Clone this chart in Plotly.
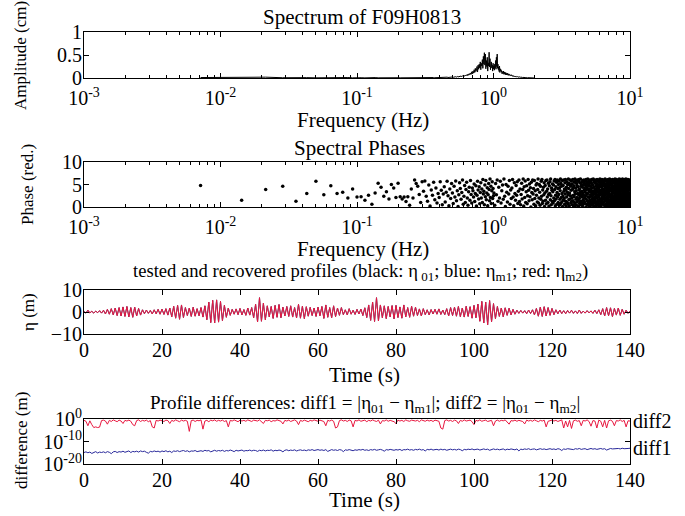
import numpy as np
import plotly.graph_objects as go

# ---------------- data ----------------
RECORD_LEN = 140.0  # s -> spectral spacing 1/140 Hz

# Amplitude spectrum (cm) at f = k/140, k = 1..280
AMP = [
    0.010, 0.022, 0.018, 0.006, 0.012, 0.008, 0.004, 0.009, 0.011, 0.005,
    0.007, 0.010, 0.004, 0.012, 0.006, 0.003, 0.008, 0.005, 0.009, 0.004,
    0.006, 0.003, 0.007, 0.005, 0.004, 0.008, 0.003, 0.006, 0.004, 0.005,
    0.003, 0.006, 0.004, 0.007, 0.003, 0.005, 0.004, 0.006, 0.008, 0.004,
    0.005, 0.007, 0.004, 0.006, 0.009, 0.005, 0.007, 0.004, 0.008, 0.006,
    0.010, 0.006, 0.008, 0.012, 0.007, 0.011, 0.009, 0.013, 0.008, 0.012,
    0.015, 0.010, 0.014, 0.018, 0.011, 0.016, 0.020, 0.013, 0.019, 0.022,
    0.016, 0.025, 0.019, 0.028, 0.021, 0.033, 0.024, 0.030, 0.038, 0.027,
    0.042, 0.031, 0.048, 0.036, 0.055, 0.040, 0.062, 0.047, 0.070, 0.052,
    0.085, 0.060, 0.095, 0.072, 0.110, 0.080, 0.135, 0.090, 0.150, 0.105,
    0.180, 0.120, 0.210, 0.140, 0.160, 0.250, 0.130, 0.280, 0.190, 0.300,
    0.220, 0.350, 0.180, 0.320, 0.260, 0.400, 0.210, 0.470, 0.300, 0.550,
    0.280, 0.520, 0.200, 0.380, 0.250, 0.450, 0.150, 0.330, 0.260, 0.560,
    0.240, 0.420, 0.180, 0.300, 0.350, 0.220, 0.280, 0.150, 0.320, 0.200,
    0.260, 0.170, 0.300, 0.220, 0.380, 0.190, 0.450, 0.250, 0.520, 0.210,
    0.300, 0.180, 0.240, 0.140, 0.260, 0.120, 0.200, 0.150, 0.180, 0.110,
    0.160, 0.090, 0.140, 0.120, 0.100, 0.150, 0.080, 0.130, 0.095, 0.110,
    0.070, 0.120, 0.085, 0.100, 0.065, 0.090, 0.075, 0.105, 0.060, 0.085,
    0.070, 0.055, 0.080, 0.060, 0.075, 0.050, 0.065, 0.045, 0.070, 0.050,
    0.060, 0.040, 0.055, 0.045, 0.050, 0.035, 0.048, 0.040, 0.030, 0.042,
    0.035, 0.028, 0.040, 0.030, 0.036, 0.025, 0.032, 0.027, 0.022, 0.030,
    0.025, 0.020, 0.028, 0.022, 0.018, 0.025, 0.020, 0.016, 0.022, 0.018,
    0.015, 0.020, 0.017, 0.013, 0.018, 0.014, 0.012, 0.016, 0.011, 0.014,
    0.012, 0.010, 0.013, 0.009, 0.011, 0.008, 0.012, 0.009, 0.010, 0.007,
    0.009, 0.007, 0.010, 0.006, 0.008, 0.006, 0.009, 0.005, 0.007, 0.006,
    0.005, 0.007, 0.004, 0.006, 0.005, 0.004, 0.006, 0.003, 0.005, 0.004,
    0.003, 0.004, 0.005, 0.003, 0.004, 0.002, 0.004, 0.003, 0.002, 0.003,
    0.002, 0.003, 0.002, 0.003, 0.002, 0.002, 0.003, 0.001, 0.002, 0.002,
]

# Spectral phases (rad): every component for k = 1..140
PHASE_LOW = [
    4.8, 1.5, 3.9, 4.6, 1.3, 3.0, 5.7, 2.7, 4.7, 3.0, 3.3, 2.0, 4.0, 2.2,
    2.3, 1.5, 2.6, 0.6, 3.1, 5.3, 4.4, 2.4, 3.4, 1.8, 5.0, 4.2, 2.1, 5.3,
    2.3, 1.8, 2.2, 1.2, 2.3, 0.4, 4.0, 2.0, 6.0, 5.2, 4.6, 2.8, 1.0, 5.6,
    3.5, 5.8, 2.4, 1.3, 4.9, 0.2, 3.8, 2.6, 5.5, 1.6, 4.2, 0.9, 3.0, 2.1,
    5.6, 3.7, 0.5, 2.9, 4.5, 1.1, 3.3, 5.7, 2.5, 0.3, 4.0, 1.9, 5.2, 3.1,
    0.8, 4.6, 2.2, 5.8, 1.4, 3.6, 0.1, 2.7, 5.4, 4.1, 1.7, 3.2, 6.0, 0.6,
    2.4, 4.8, 1.0, 3.9, 5.5, 2.0, 0.4, 3.4, 4.4, 1.5, 5.9, 2.8, 0.9, 4.2,
    3.6, 2.2, 5.1, 1.2, 3.0, 4.7, 0.2, 2.6, 5.7, 3.8, 1.8, 4.5, 0.7, 3.2,
    5.4, 2.0, 4.0, 1.0, 6.1, 2.9, 3.5, 0.5, 4.9, 2.3, 5.9, 1.6, 3.1, 4.3,
    0.3, 2.7, 5.2, 3.9, 1.4, 6.2, 2.1, 4.6, 0.8, 3.6, 5.6, 1.9, 4.1, 2.5,
]
# Spectral phases (rad): every second component for k = 141..1399
PHASE_HIGH = [
    3.1, 0.4, 5.2, 2.7, 6.0, 1.3, 4.4, 2.0, 5.7, 0.9, 3.6, 4.9, 1.7, 6.2, 2.4, 0.1, 5.0, 3.3, 1.1, 4.6,
    2.9, 5.9, 0.6, 3.8, 1.9, 4.2, 6.1, 2.2, 0.3, 5.4, 3.0, 1.5, 4.8, 2.6, 5.6, 0.8, 3.5, 6.0, 1.2, 4.0,
    0.5, 2.8, 5.3, 1.8, 3.9, 6.2, 0.2, 4.5, 2.1, 5.8, 1.0, 3.4, 4.7, 0.7, 2.5, 6.1, 3.7, 1.4, 5.1, 2.3,
    4.3, 0.0, 5.5, 3.2, 1.6, 6.0, 2.9, 4.1, 0.6, 5.9, 1.9, 3.6, 0.3, 4.9, 2.6, 5.2, 1.1, 3.9, 6.2, 0.9,
    2.0, 5.0, 3.3, 0.4, 4.6, 1.7, 5.7, 2.4, 6.1, 0.8, 3.8, 1.3, 4.4, 2.7, 5.4, 0.1, 3.1, 4.8, 1.5, 5.9,
    0.7, 3.5, 6.0, 2.2, 4.0, 1.0, 5.3, 2.8, 0.2, 4.7, 3.0, 5.6, 1.6, 6.2, 2.5, 0.5, 4.2, 3.7, 1.2, 5.1,
    3.4, 0.9, 4.9, 2.0, 5.8, 1.4, 3.9, 6.1, 0.3, 2.6, 4.5, 1.8, 5.5, 0.6, 3.2, 6.0, 2.3, 4.1, 1.0, 5.0,
    2.8, 5.7, 0.4, 4.3, 1.7, 3.6, 6.2, 0.8, 5.2, 2.1, 4.6, 1.1, 3.0, 5.9, 0.1, 2.4, 4.8, 1.5, 6.0, 3.5,
    1.9, 4.0, 0.6, 5.4, 2.9, 6.1, 1.3, 3.8, 0.2, 4.4, 2.2, 5.6, 1.0, 3.3, 5.0, 0.7, 2.7, 6.2, 4.1, 1.6,
    5.3, 0.3, 3.1, 4.9, 1.8, 6.0, 2.5, 0.9, 4.6, 3.7, 5.8, 1.2, 2.0, 5.1, 0.5, 3.9, 6.1, 1.4, 4.3, 2.6,
    0.1, 4.7, 2.3, 5.5, 1.0, 3.4, 6.2, 0.6, 2.9, 4.2, 5.9, 1.7, 3.6, 0.4, 5.2, 2.1, 4.8, 1.1, 6.0, 3.0,
    4.5, 1.5, 5.7, 2.8, 0.2, 3.8, 6.1, 1.9, 4.0, 0.8, 5.4, 2.4, 3.2, 6.2, 1.3, 4.6, 0.5, 2.7, 5.0, 3.5,
    1.0, 5.6, 2.2, 4.4, 0.3, 3.1, 5.9, 1.6, 4.9, 2.6, 0.7, 6.0, 3.7, 1.2, 5.3, 2.0, 4.1, 0.9, 5.8, 3.3,
    2.5, 4.7, 0.0, 6.1, 1.8, 3.9, 5.1, 0.6, 2.9, 4.3, 1.4, 5.5, 3.0, 6.2, 0.4, 2.3, 4.8, 1.1, 5.7, 3.6,
    0.8, 4.0, 2.1, 5.2, 1.5, 6.0, 3.4, 0.2, 4.6, 2.7, 5.9, 1.0, 3.8, 0.5, 5.4, 2.4, 4.2, 6.1, 1.7, 3.1,
    5.0, 1.2, 3.5, 0.7, 4.9, 2.0, 6.2, 2.8, 0.3, 4.4, 1.6, 5.6, 3.2, 0.9, 5.8, 2.2, 4.0, 1.3, 6.0, 3.7,
    1.9, 5.3, 0.1, 3.0, 4.7, 2.5, 5.9, 0.6, 3.6, 1.1, 4.3, 6.1, 2.0, 5.1, 0.4, 3.3, 4.8, 1.5, 5.7, 2.6,
    4.1, 0.8, 6.0, 2.3, 3.9, 1.4, 5.5, 0.2, 2.9, 4.5, 1.8, 6.2, 3.4, 0.5, 5.0, 2.7, 4.6, 1.0, 5.8, 3.1,
    0.3, 3.7, 5.2, 1.6, 4.4, 2.1, 6.1, 0.9, 3.5, 5.6, 1.2, 4.0, 2.4, 5.9, 0.7, 3.0, 4.9, 1.9, 6.0, 2.8,
    5.4, 1.1, 3.8, 0.4, 4.7, 2.5, 5.7, 1.7, 3.2, 6.2, 0.1, 4.2, 2.0, 5.1, 1.4, 3.6, 0.6, 4.8, 2.9, 5.9,
    1.5, 4.5, 0.8, 3.3, 6.0, 2.2, 5.0, 0.3, 3.9, 1.8, 5.5, 2.6, 4.1, 0.5, 6.1, 3.0, 1.2, 4.6, 2.3, 5.3,
    3.4, 0.9, 5.8, 2.7, 4.3, 1.0, 6.2, 3.6, 0.2, 4.9, 1.6, 5.2, 2.1, 3.8, 0.7, 5.7, 2.4, 4.0, 1.3, 6.0,
    2.8, 5.1, 0.4, 4.4, 1.9, 3.1, 5.9, 0.6, 2.5, 4.7, 1.1, 6.1, 3.5, 0.0, 5.4, 2.0, 4.2, 1.5, 5.6, 3.2,
    0.9, 3.9, 6.0, 1.4, 4.6, 2.3, 5.3, 0.5, 3.0, 5.8, 1.7, 4.1, 2.6, 6.2, 0.3, 3.7, 4.9, 1.0, 5.0, 2.2,
    4.8, 1.3, 3.4, 5.7, 0.7, 2.9, 6.1, 1.8, 4.3, 0.2, 5.5, 2.5, 3.8, 1.1, 5.9, 3.1, 0.6, 4.5, 2.0, 5.2,
    1.6, 4.0, 0.4, 5.6, 2.8, 3.6, 6.0, 1.2, 4.7, 0.8, 3.3, 5.1, 2.1, 6.2, 0.1, 4.4, 1.9, 5.4, 2.7, 3.9,
    0.5, 5.8, 2.4, 4.2, 1.0, 3.0, 6.1, 1.5, 4.9, 0.3, 3.5, 5.3, 2.2, 0.9, 4.6, 6.0, 1.7, 3.7, 5.0, 2.6,
    4.1, 0.6, 5.5, 2.9, 1.4, 3.8, 6.2, 0.2, 4.4, 2.0, 5.7, 1.1, 3.2, 4.8, 0.7, 5.9, 2.5, 1.6, 4.3, 3.4,
    6.0, 1.8, 3.6, 0.4, 5.1, 2.3, 4.7, 1.0, 5.6, 2.8, 0.1, 3.9, 6.1, 1.3, 4.0, 2.6, 5.3, 0.8, 3.1, 4.5,
    1.2, 5.0, 2.1, 6.2, 0.5, 3.5, 4.9, 1.7, 5.8, 2.7, 0.3, 4.2, 3.0, 5.5, 1.5, 3.8, 0.9, 6.0, 2.4, 4.6,
    0.6, 3.3, 5.7, 1.9, 4.1, 2.9, 6.1, 0.2, 3.6, 5.2, 1.4, 4.8, 2.0, 5.9, 1.1, 3.9, 0.7, 4.4, 2.5, 5.4,
    3.0, 1.6, 5.1, 0.4, 4.7, 2.3, 6.0, 1.0, 3.7, 2.8,
]

# Surface elevation (m), sampled every 0.5 s from 0 to 140 s
T_STEP = 0.5
ETA = [
    0.2, -0.5, 0.8, -0.4, 0.3, -0.5, 0.4, -0.3, 0.6, -0.5,
    0.8, -0.9, 1.2, -1.0, 1.5, -1.3, 1.8, -1.6, 2.0, -1.8,
    2.3, -2.0, 2.5, -2.2, 2.0, -2.4, 2.2, -1.8, 1.6, -1.4,
    1.0, -0.8, 0.9, -0.6, 0.7, -0.9, 1.0, -0.8, 1.2, -1.0,
    1.3, -1.1, 1.5, -1.4, 1.8, -2.2, 2.6, -2.8, 3.0, -3.3,
    3.2, -2.5, 2.0, -1.6, 1.8, -2.0, 2.2, -1.9, 1.5, -1.7,
    2.0, -2.3, 2.8, -3.5, 4.5, -4.8, 5.3, -5.0, 5.5, -4.6,
    4.8, -3.9, 3.0, -2.4, 1.8, -1.5, 1.2, -1.0, 1.4, -1.2,
    1.6, -1.3, 1.1, -1.5, 1.8, -1.4, 2.0, -2.6, 3.5, -4.5,
    6.5, -4.2, 4.0, -3.5, 2.8, -2.2, 2.5, -2.9, 3.0, -2.4,
    3.4, -2.6, 2.2, -1.8, 2.5, -2.0, 2.8, -2.3, 2.0, -2.7,
    3.5, -2.8, 2.6, -3.0, 2.4, -1.9, 2.1, -1.6, 1.8, -2.0,
    2.2, -1.7, 2.5, -2.9, 3.2, -2.4, 2.0, -2.6, 2.8, -2.1,
    1.8, -1.5, 2.0, -1.2, 1.0, -1.3, 1.5, -1.0, 0.8, -1.1,
    1.2, -0.9, 1.3, -1.6, 1.9, -2.5, 3.2, -3.8, 4.5, -4.3,
    6.5, -4.0, 3.2, -2.6, 2.8, -3.0, 2.5, -2.2, 2.9, -3.1,
    3.0, -2.5, 2.3, -2.8, 3.2, -2.2, 2.0, -2.4, 2.6, -1.9,
    2.2, -1.6, 1.4, -1.8, 1.5, -1.2, 1.0, -1.3, 1.1, -0.9,
    1.2, -1.0, 1.4, -1.1, 0.9, -1.2, 1.5, -1.8, 2.0, -1.6,
    2.2, -1.9, 2.5, -2.1, 1.8, -2.3, 2.6, -2.0, 2.4, -2.8,
    3.0, -2.6, 3.6, -4.2, 4.8, -5.0, 4.5, -5.8, 5.2, -4.4,
    3.8, -3.0, 2.5, -2.0, 1.8, -2.2, 1.9, -1.5, 1.7, -1.3,
    1.2, -1.0, 0.8, -0.6, 0.7, -0.5, 0.6, -0.8, 0.9, -0.7,
    1.0, -1.3, 1.6, -1.9, 2.2, -2.0, 2.4, -1.8, 2.0, -1.5,
    1.6, -1.2, 1.0, -0.8, 0.9, -0.7, 0.6, -0.8, 0.7, -0.5,
    0.8, -0.6, 0.5, -0.7, 0.9, -0.6, 0.4, -0.5, 0.6, -0.4,
    0.5, -0.6, 0.8, -0.7, 1.0, -1.2, 1.5, -1.8, 2.0, -1.7,
    1.9, -2.1, 1.6, -1.4, 1.8, -1.5, 1.2, -1.0, 0.8, -0.6,
    0.4,
]

# log10 of |eta01 - eta_m2| (diff2) and |eta01 - eta_m1| (diff1), every 0.5 s
DIFF2_LOG = [
    -0.6, -1.0, -3.0, -0.8, -2.5, -3.8, -3.5, -3.8, -3.6, -0.7,
    -0.5, -0.9, -2.3, -0.6, -1.1, -0.4, -0.8, -1.2, -0.5, -0.9,
    -2.0, -0.6, -0.9, -0.5, -1.0, -2.5, -3.0, -0.7, -0.4, -1.1,
    -0.6, -0.9, -0.5, -1.2, -0.7, -3.5, -4.0, -0.6, -0.9, -0.5,
    -0.8, -1.1, -0.5, -0.7, -2.0, -0.6, -1.0, -0.4, -0.8, -1.2,
    -0.5, -0.9, -0.6, -1.0, -5.5, -0.7, -0.5, -1.1, -0.6, -0.8,
    -0.4, -4.5, -0.9, -0.6, -1.2, -0.5, -0.8, -0.4, -1.0, -0.6,
    -0.9, -0.5, -1.1, -0.7, -3.5, -0.6, -0.9, -0.4, -0.8, -1.2,
    -0.5, -0.9, -0.6, -1.0, -0.4, -0.8, -1.1, -0.5, -0.7, -0.9,
    -0.4, -1.0, -2.0, -0.6, -0.8, -0.5, -1.2, -0.7, -0.9, -0.4,
    -0.8, -1.0, -2.2, -0.6, -0.9, -0.5, -1.1, -0.7, -0.4, -0.9,
    -2.5, -0.6, -1.0, -0.5, -0.8, -1.2, -0.6, -0.9, -0.4, -0.7,
    -1.0, -0.5, -0.8, -1.1, -3.0, -0.6, -0.9, -0.5, -1.0, -4.0,
    -3.5, -0.7, -0.4, -0.9, -0.6, -1.1, -0.5, -0.8, -3.5, -0.6,
    -0.9, -0.4, -1.0, -0.7, -0.5, -1.2, -0.6, -0.9, -0.4, -0.8,
    -1.1, -0.5, -2.2, -0.7, -0.9, -0.4, -1.0, -0.6, -0.8, -1.2,
    -2.0, -0.5, -0.9, -0.6, -1.1, -0.4, -0.8, -1.0, -0.5, -0.7,
    -0.9, -0.6, -1.2, -0.4, -0.8, -1.0, -0.5, -0.9, -0.6, -1.1,
    -0.5, -0.8, -1.0, -4.0, -4.5, -0.7, -0.4, -0.9, -0.6, -1.1,
    -0.5, -0.8, -2.0, -0.6, -1.0, -0.4, -0.9, -0.7, -0.5, -1.2,
    -2.5, -0.6, -0.9, -0.4, -1.0, -0.7, -0.5, -1.1, -0.8, -0.6,
    -3.0, -0.9, -0.5, -1.0, -0.6, -0.8, -0.4, -1.2, -2.3, -0.7,
    -0.9, -0.5, -1.0, -0.6, -0.8, -1.1, -2.2, -0.5, -0.9, -0.6,
    -1.0, -0.4, -0.8, -1.2, -0.6, -0.9, -0.5, -3.5, -1.0, -0.7,
    -0.5, -0.9, -0.6, -1.1, -0.8, -0.4, -4.0, -0.9, -3.5, -0.6,
    -4.2, -0.8, -0.5, -1.0, -0.7, -3.0, -0.6, -0.9, -0.4, -1.1,
    -3.2, -0.7, -0.9, -4.0, -0.5, -1.0, -3.5, -0.6, -4.0, -0.8,
    -0.5, -1.0, -3.0, -0.7, -0.9, -0.4, -1.1, -0.6, -3.5, -0.8,
    -0.9,
]
DIFF1_LOG = [
    -14.9, -14.6, -15.0, -14.7, -15.3, -14.8, -14.5, -15.1, -14.7, -14.9,
    -14.6, -15.0, -14.5, -14.8, -15.4, -14.6, -14.4, -14.9, -14.5, -14.7,
    -14.3, -14.8, -14.5, -14.2, -14.9, -14.4, -14.6, -14.3, -14.7, -14.2,
    -14.5, -14.3, -14.8, -15.2, -14.4, -14.6, -14.2, -14.5, -14.3, -14.7,
    -14.2, -14.5, -14.1, -14.6, -14.3, -14.9, -14.2, -14.4, -14.1, -14.5,
    -14.2, -14.0, -14.4, -14.1, -14.6, -14.2, -14.3, -14.0, -14.5, -14.2,
    -14.1, -14.4, -13.9, -14.2, -14.0, -14.6, -14.1, -13.9, -14.3, -14.0,
    -14.2, -13.9, -14.4, -14.0, -14.2, -13.8, -14.1, -14.5, -13.9, -14.2,
    -14.0, -13.8, -14.3, -14.0, -14.1, -13.8, -14.2, -13.9, -14.0, -14.4,
    -13.9, -14.1, -13.8, -14.2, -13.9, -14.0, -13.7, -14.3, -13.9, -14.1,
    -13.8, -14.0, -14.6, -13.9, -13.7, -14.1, -13.8, -14.0, -13.7, -14.2,
    -13.9, -13.7, -14.0, -13.8, -14.1, -13.7, -13.9, -13.6, -14.0, -13.8,
    -13.6, -13.9, -13.7, -14.0, -13.6, -14.4, -13.8, -13.6, -13.9, -13.7,
    -14.0, -13.6, -13.8, -14.5, -13.7, -13.9, -13.6, -13.8, -14.1, -13.7,
    -13.9, -13.6, -13.8, -13.5, -13.9, -13.7, -14.0, -13.6, -13.8, -13.5,
    -13.9, -13.7, -13.5, -13.8, -14.3, -13.6, -13.8, -13.5, -13.7, -13.9,
    -13.6, -13.8, -13.5, -14.0, -13.6, -13.7, -13.4, -13.8, -13.6, -13.9,
    -13.5, -13.7, -13.4, -13.8, -13.6, -14.2, -13.5, -13.7, -13.4, -13.8,
    -13.6, -13.5, -13.8, -13.4, -13.7, -13.5, -13.9, -13.6, -13.4, -13.7,
    -13.5, -13.8, -13.4, -13.6, -14.1, -13.5, -13.7, -13.4, -13.6, -13.3,
    -13.7, -13.5, -13.4, -13.8, -13.5, -13.3, -13.6, -13.4, -13.9, -13.5,
    -13.3, -13.6, -13.4, -13.7, -13.5, -13.3, -13.8, -13.4, -13.6, -13.3,
    -13.5, -13.7, -13.3, -14.2, -13.4, -13.6, -13.3, -13.5, -13.2, -13.6,
    -13.4, -13.3, -13.7, -13.4, -13.2, -13.5, -13.3, -13.6, -13.4, -13.2,
    -13.5, -13.3, -13.6, -13.2, -13.4, -14.0, -13.3, -13.5, -13.2, -13.4,
    -13.3, -13.6, -13.2, -13.4, -13.1, -13.5, -13.3, -13.2, -13.6, -13.3,
    -13.1, -13.4, -13.2, -13.5, -13.3, -13.1, -13.4, -13.2, -13.8, -13.3,
    -13.1, -13.3, -13.2, -13.4, -13.1, -13.3, -13.0, -13.2, -13.3, -13.1,
    -13.0,
]

FREQ_TICKS = [1e-3, 1e-2, 1e-1, 1e0, 1e1]
FREQ_TICKTEXT = ["10<sup>-3</sup>", "10<sup>-2</sup>", "10<sup>-1</sup>", "10<sup>0</sup>", "10<sup>1</sup>"]
TIME_TICKS = [0, 20, 40, 60, 80, 100, 120, 140]
DIFF_TICKS = [1e-20, 1e-10, 1e0]
DIFF_TICKTEXT = ["10<sup>-20</sup>", "10<sup>-10</sup>", "10<sup>0</sup>"]

# ---------------- derived arrays ----------------
freq_amp = np.arange(1, len(AMP) + 1) / RECORD_LEN
freq_low = np.arange(1, len(PHASE_LOW) + 1) / RECORD_LEN
freq_high = (len(PHASE_LOW) + 1 + 2 * np.arange(len(PHASE_HIGH))) / RECORD_LEN
freq_ph = np.concatenate([freq_low, freq_high])
phase = np.array(PHASE_LOW + PHASE_HIGH)
t = np.arange(len(ETA)) * T_STEP
diff2 = 10.0 ** np.array(DIFF2_LOG)
diff1 = 10.0 ** np.array(DIFF1_LOG)

# ---------------- figure ----------------
W, H = 685, 516
FONT = "Liberation Serif"
FS_ = 20      # horizontal texts
FS_ROT = 17   # rotated y-axis titles
RED = "#e8173f"
BLUE = "#27279a"

def py(y):
    return 1 - y / H

XDOM = [84 / W, 630 / W]
frames = {1: (32, 78), 2: (162, 207), 3: (290, 334), 4: (419, 464)}

fig = go.Figure()
fig.add_trace(go.Scatter(x=freq_amp, y=AMP, mode="lines",
                         line=dict(color="black", width=1), xaxis="x", yaxis="y"))
fig.add_trace(go.Scatter(x=freq_ph, y=phase, mode="markers",
                         marker=dict(color="black", size=3.5, line=dict(width=0)),
                         xaxis="x2", yaxis="y2"))
for col, wd in (("black", 0.5), (BLUE, 0.5), (RED, 1)):
    fig.add_trace(go.Scatter(x=t, y=ETA, mode="lines",
                             line=dict(color=col, width=wd), xaxis="x3", yaxis="y3"))
fig.add_trace(go.Scatter(x=t, y=diff2, mode="lines",
                         line=dict(color=RED, width=1), xaxis="x4", yaxis="y4"))
fig.add_trace(go.Scatter(x=t, y=diff1, mode="lines",
                         line=dict(color=BLUE, width=1), xaxis="x4", yaxis="y4"))

tickfont = dict(family=FONT, size=FS_, color="black")
base = dict(showline=True, linecolor="black", linewidth=1, mirror="ticks",
            ticks="inside", ticklen=5, tickcolor="black", tickwidth=1,
            showgrid=False, zeroline=False, tickfont=tickfont, automargin=False)

minor_vals = [m * 10.0 ** e for e in range(-3, 1) for m in range(2, 10)]
logx = dict(base, type="log", range=[-3, 1], tickmode="array",
            tickvals=FREQ_TICKS, ticktext=FREQ_TICKTEXT,
            minor=dict(ticks="inside", ticklen=3, tickcolor="black",
                       tickmode="array", tickvals=minor_vals, showgrid=False),
            ticklabelstandoff=2)
timex = dict(base, range=[0, 140], tickmode="array", tickvals=TIME_TICKS,
             ticklabelstandoff=-2)

layout = dict(
    template="none",
    width=W, height=H, margin=dict(l=0, r=0, t=0, b=0, pad=0),
    paper_bgcolor="white", plot_bgcolor="white", showlegend=False,
    font=dict(family=FONT, size=FS_, color="black"),
    xaxis=dict(logx, domain=XDOM, anchor="y"),
    xaxis2=dict(logx, domain=XDOM, anchor="y2"),
    xaxis3=dict(timex, domain=XDOM, anchor="y3"),
    xaxis4=dict(timex, domain=XDOM, anchor="y4"),
    yaxis=dict(base, range=[0, 1], tickvals=[0, 0.5, 1], ticktext=["0", "0.5", "1"],
               domain=[py(frames[1][1]), py(frames[1][0])], anchor="x", ticklabelstandoff=-3),
    yaxis2=dict(base, range=[0, 10], tickvals=[0, 5, 10],
                domain=[py(frames[2][1]), py(frames[2][0])], anchor="x2", ticklabelstandoff=-3),
    yaxis3=dict(base, range=[-10, 10], tickvals=[-10, 0, 10],
                domain=[py(frames[3][1]), py(frames[3][0])], anchor="x3", ticklabelstandoff=-3),
    yaxis4=dict(base, type="log", range=[-20, 0], tickmode="array",
                tickvals=DIFF_TICKS, ticktext=DIFF_TICKTEXT,
                domain=[py(frames[4][1]), py(frames[4][0])], anchor="x4", ticklabelstandoff=-3),
)
fig.update_layout(**layout)

def ann(text, xpx, ypx, angle=0, size=FS_):
    fig.add_annotation(text=text, x=xpx / W, y=py(ypx), xref="paper", yref="paper",
                       showarrow=False, textangle=angle, xanchor="center", yanchor="middle",
                       font=dict(family=FONT, size=size, color="black"))

ann("Spectrum of F09H0813", 362, 17, size=21)
ann("Frequency (Hz)", 363, 120, size=21)
ann("Amplitude (cm)", 21, 56, -90, FS_ROT)
ann("Spectral Phases", 359, 148, size=21)
ann("Frequency (Hz)", 363, 249, size=21)
ann("Phase (red.)", 28, 185, -90, FS_ROT)
ann("tested and recovered profiles (black: η<sub> 01</sub>; blue: η<sub>m1</sub>; red: η<sub>m2</sub>)",
    361, 272, size=18.6)
ann("Time (s)", 364, 375, size=21)
ann("η (m)", 28, 312, -90, FS_ROT)
ann("Profile differences: diff1 = |η<sub>01</sub> − η<sub>m1</sub>|; diff2 = |η<sub>01</sub> − η<sub>m2</sub>|",
    365, 404, size=19)
ann("Time (s)", 364, 500, size=21)
ann("difference (m)", 21, 441, -90, FS_ROT)

for label, series in (("diff2", diff2), ("diff1", diff1)):
    fig.add_annotation(text=label, x=t[-1], y=np.log10(series[-1]), xref="x4", yref="y4",
                       showarrow=False, xanchor="left", yanchor="middle", xshift=1,
                       font=dict(family=FONT, size=FS_, color="black"))

fig.write_html("out.html", config={"displayModeBar": False},
               post_script="document.body.style.margin='0px';document.body.style.overflow='hidden';")
